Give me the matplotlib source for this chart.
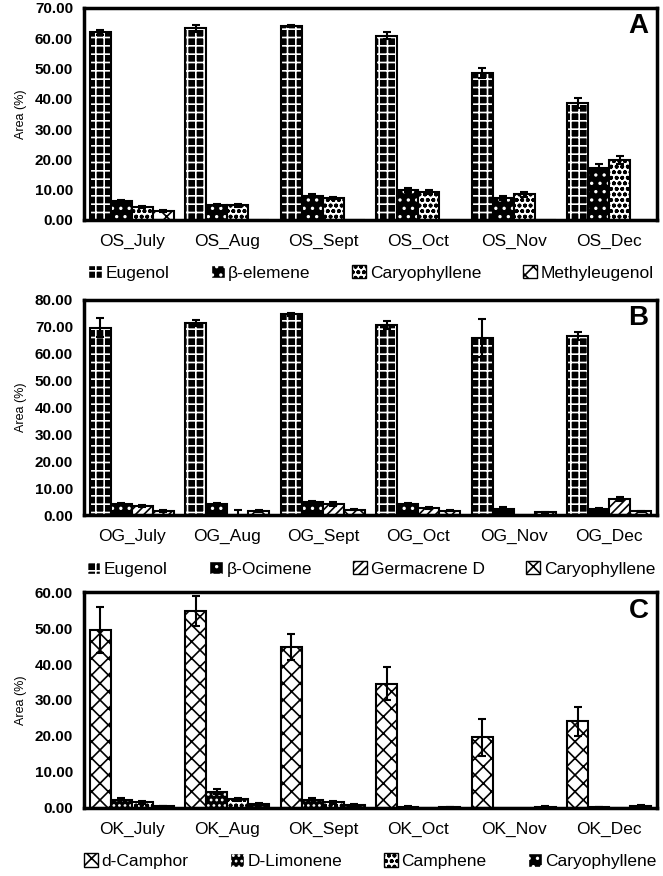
import numpy as np
import matplotlib.pyplot as plt
from matplotlib.patches import Patch

plt.rcParams['font.family'] = ['Liberation Sans', 'DejaVu Sans']
plt.rcParams['font.weight'] = 'bold'
plt.rcParams['hatch.linewidth'] = 1.2

# Panel A
a_cats = ['OS_July', 'OS_Aug', 'OS_Sept', 'OS_Oct', 'OS_Nov', 'OS_Dec']
a_names = ['Eugenol', 'β-elemene', 'Caryophyllene', 'Methyleugenol']
a_vals = [[62.0, 63.2, 64.0, 60.8, 48.4, 38.6],
          [6.2, 5.0, 8.0, 9.8, 7.2, 17.0],
          [4.3, 4.8, 7.3, 9.2, 8.4, 19.8],
          [3.0, 0.0, 0.0, 0.0, 0.0, 0.0]]
a_errs = [[0.8, 1.3, 0.4, 1.2, 1.6, 1.5],
          [0.4, 0.3, 0.4, 0.6, 0.8, 1.3],
          [0.4, 0.4, 0.4, 0.7, 0.8, 1.2],
          [0.4, 0.0, 0.0, 0.0, 0.0, 0.0]]

# Panel B
b_cats = ['OG_July', 'OG_Aug', 'OG_Sept', 'OG_Oct', 'OG_Nov', 'OG_Dec']
b_names = ['Eugenol', 'β-Ocimene', 'Germacrene D', 'Caryophyllene']
b_vals = [[69.5, 71.3, 74.5, 70.5, 65.8, 66.6],
          [4.2, 4.2, 4.8, 4.0, 2.3, 2.4],
          [3.4, 0.0, 4.0, 2.6, 0.0, 6.0],
          [1.5, 1.6, 2.0, 1.7, 1.0, 1.4]]
b_errs = [[3.5, 1.0, 0.5, 1.5, 7.0, 1.5],
          [0.3, 0.4, 0.6, 0.4, 0.6, 0.4],
          [0.3, 2.0, 0.8, 0.5, 0.0, 0.9],
          [0.3, 0.3, 0.2, 0.3, 0.2, 0.3]]

# Panel C
c_cats = ['OK_July', 'OK_Aug', 'OK_Sept', 'OK_Oct', 'OK_Nov', 'OK_Dec']
c_names = ['d-Camphor', 'D-Limonene', 'Camphene', 'Caryophyllene']
c_vals = [[49.5, 54.7, 44.8, 34.5, 19.6, 24.0],
          [2.0, 4.5, 2.0, 0.3, 0.0, 0.2],
          [1.5, 2.3, 1.5, 0.0, 0.0, 0.0],
          [0.5, 1.0, 0.8, 0.2, 0.3, 0.6]]
c_errs = [[6.5, 4.2, 3.6, 4.6, 5.2, 4.0],
          [0.6, 0.8, 0.6, 0.1, 0.0, 0.1],
          [0.4, 0.5, 0.4, 0.0, 0.0, 0.0],
          [0.1, 0.2, 0.2, 0.1, 0.1, 0.2]]

# (face, hatch colour, hatch)
styles_a = [('black', 'white', '++'), ('black', 'white', '..'),
            ('white', 'black', 'ooo'), ('white', 'black', 'xx')]
styles_b = [('black', 'white', '++'), ('black', 'white', '..'),
            ('white', 'black', '////'), ('white', 'black', 'xx')]
styles_c = [('white', 'black', 'xx'), ('black', 'white', '...'),
            ('white', 'black', 'ooo'), ('black', 'white', '..')]

fig = plt.figure(figsize=(6.63, 8.76), dpi=100)


def panel(rect, cats, names, vals, errs, styles, ymax, letter):
    ax = fig.add_axes(rect)
    x = np.arange(len(cats))
    w = 0.22
    handles = []
    for i, (name, v, e, st) in enumerate(zip(names, vals, errs, styles)):
        pos = x + (i - 1.5) * w
        ax.bar(pos, v, w, color=st[0], edgecolor=st[1], hatch=st[2], linewidth=0)
        ax.bar(pos, v, w, fill=False, edgecolor='black', linewidth=1.5)
        e = np.array(e)
        ax.errorbar(pos[e > 0], np.array(v)[e > 0], yerr=e[e > 0], fmt='none',
                    ecolor='black', elinewidth=1.5, capsize=3, capthick=1.5)
        handles.append(Patch(facecolor=st[0], edgecolor=st[1], hatch=st[2], label=name))
    ax.set_xlim(-0.5, len(cats) - 0.5)
    ax.set_ylim(0, ymax)
    ax.set_yticks(np.arange(0, ymax + 1, 10))
    ax.set_yticklabels(['%.2f' % t for t in np.arange(0, ymax + 1, 10)], fontsize=11)
    ax.set_xticks(x)
    ax.set_xticklabels(cats, fontsize=12.5, fontweight='normal')
    ax.tick_params(length=0, pad=8)
    ax.tick_params(axis='x', pad=10)
    for s in ax.spines.values():
        s.set_linewidth(2.5)
    ax.set_ylabel('Area (%)', fontsize=9, labelpad=6)
    ax.text(0.985, 0.975, letter, transform=ax.transAxes, ha='right', va='top',
            fontsize=20, fontweight='bold')
    ax.legend(handles=handles, loc='upper center', bbox_to_anchor=(0.5, -0.14),
              ncol=4, frameon=False, handlelength=0.8,
              handleheight=0.8, handletextpad=0.2, columnspacing=2.4,
              prop={'size': 12.5, 'weight': 'normal'})
    return ax


panel([0.127, 0.749, 0.864, 0.242], a_cats, a_names, a_vals, a_errs, styles_a, 70, 'A')
panel([0.127, 0.412, 0.864, 0.246], b_cats, b_names, b_vals, b_errs, styles_b, 80, 'B')
panel([0.127, 0.078, 0.864, 0.246], c_cats, c_names, c_vals, c_errs, styles_c, 60, 'C')

fig.savefig('out.png', dpi=100)
